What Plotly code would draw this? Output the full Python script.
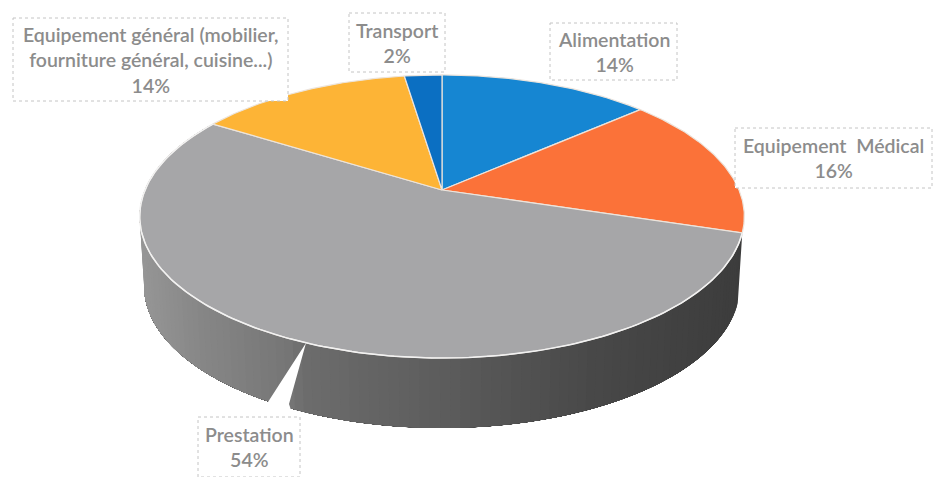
import numpy as np
import plotly.graph_objects as go

categories = ["Alimentation", "Equipement  Médical", "Prestation",
              "Equipement général (mobilier,<br>fourniture général, cuisine...)", "Transport"]
shares = [13.5, 16.3, 54.1, 13.7, 2.4]
colors = ["#1686d2", "#fb7239", "#a6a6a8", "#fdb436", "#0b6fc2"]

# projection of the tilted disc
CX, CY, RX, RY, K = 442, 190, 297, 136.6, 0.187
DEPTH, SHRINK = 70, 0.985


def project(a):
    d = 1 + K * np.cos(a)
    return CX + RX * np.sin(a) / d, CY - RY * np.cos(a) / d


def wall_grey(x):
    g = np.interp(x, [140, 200, 290, 310, 450, 600, 745], [150, 135, 118, 108, 92, 72, 60])
    return f"rgb({g:.0f},{g:.0f},{g:.0f})"


fig = go.Figure()
edges = np.cumsum([0] + shares) / sum(shares) * 2 * np.pi

# side wall of the largest slice: each band reaches the far end and is overpainted by the next
wall = np.linspace(edges[2], edges[3], 121)
for a0 in wall[:-1]:
    seg = np.linspace(a0, edges[3], 120)
    x, y = project(seg)
    xb = CX + (x - CX) * SHRINK
    yb = y + DEPTH
    col = wall_grey(x[0])
    fig.add_trace(go.Scatter(x=np.r_[x, xb[::-1]], y=np.r_[y, yb[::-1]], mode="lines",
                             fill="toself", fillcolor=col, line=dict(width=0),
                             hoverinfo="skip", showlegend=False))

# top faces
for i, (name, col) in enumerate(zip(categories, colors)):
    seg = np.linspace(edges[i], edges[i + 1], 90)
    x, y = project(seg)
    fig.add_trace(go.Scatter(x=np.r_[CX, x, CX], y=np.r_[CY, y, CY], mode="lines",
                             fill="toself", fillcolor=col,
                             line=dict(color="#ece4dc", width=1.2),
                             name=name, hoverinfo="skip", showlegend=False))

# pale rim along the front of the disc
x, y = project(np.linspace(edges[2], edges[3], 200))
fig.add_trace(go.Scatter(x=x, y=y, mode="lines", line=dict(color="#f2f2f2", width=1.5),
                         hoverinfo="skip", showlegend=False))

label_boxes = [(550, 23, 677, 80), (735, 128, 932, 188), (198, 417, 300, 477),
               (13, 18, 288, 101), (349, 13, 445, 72)]
shapes = [dict(type="path", path="M 306 343 L 268 402 L 272 425 L 296 425 L 289 404 Z",
               fillcolor="white", line=dict(width=0), layer="above")]
annotations = []
for name, v, (x0, y0, x1, y1) in zip(categories, shares, label_boxes):
    shapes.append(dict(type="rect", x0=x0, y0=y0, x1=x1, y1=y1, fillcolor="white",
                       line=dict(color="#c4c4c4", width=1, dash="dot"), layer="above"))
    annotations.append(dict(x=(x0 + x1) / 2, y=(y0 + y1) / 2, text=f"{name}<br>{round(v)}%",
                            showarrow=False, align="center", xanchor="center", yanchor="middle",
                            font=dict(family="Lato", size=19.5, color="#8c8c8c", weight=600)))

fig.update_layout(width=935, height=477, margin=dict(l=0, r=0, t=0, b=0),
                  paper_bgcolor="white", plot_bgcolor="white", shapes=shapes,
                  annotations=annotations, showlegend=False,
                  xaxis=dict(range=[0, 935], visible=False, fixedrange=True),
                  yaxis=dict(range=[477, 0], visible=False, fixedrange=True))
fig.write_html("out.html", post_script="document.body.style.margin='0';", config=dict(displayModeBar=False))
